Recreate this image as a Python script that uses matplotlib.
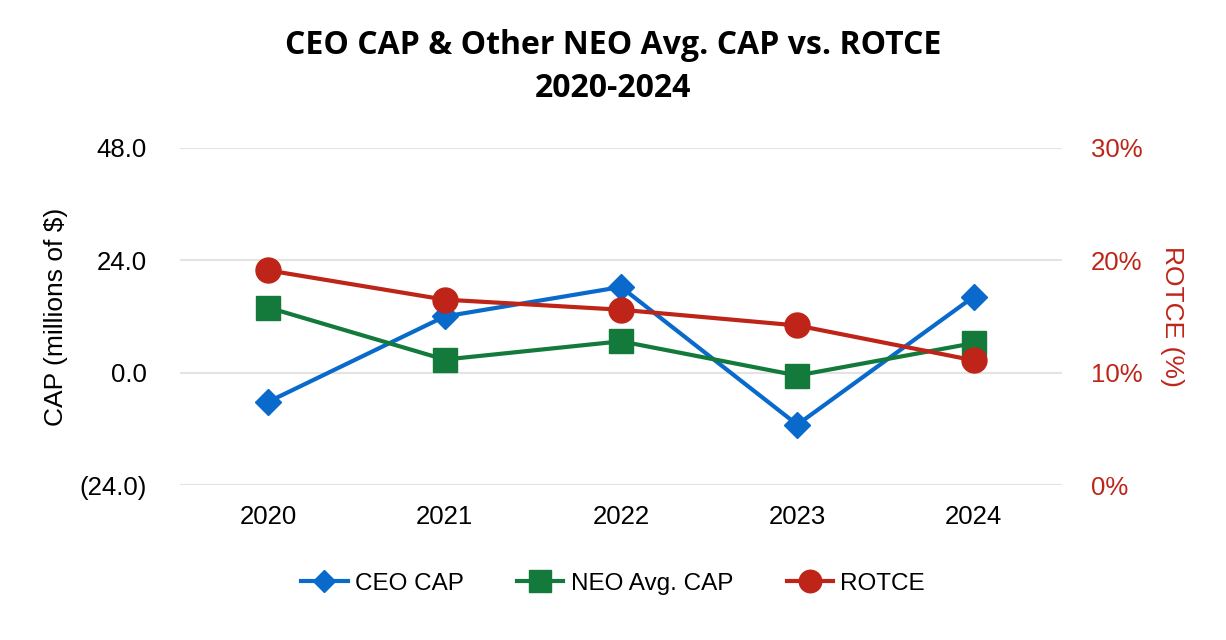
import matplotlib
matplotlib.use('Agg')
import matplotlib.pyplot as plt
from matplotlib.ticker import FuncFormatter

plt.rcParams['font.family'] = ['Liberation Sans', 'DejaVu Sans']

# 数据
years = ['2020', '2021', '2022', '2023', '2024']
ceo_cap = [-6.2, 12.0, 18.3, -11.1, 16.2]
neo_cap = [13.9, 2.8, 6.7, -0.6, 6.3]
rotce = [19.1, 16.5, 15.6, 14.2, 11.1]

blue = '#0A6ACB'
green = '#137A3C'
red = '#BF2418'

fig = plt.figure(figsize=(12.26, 6.4), dpi=100)
ax = fig.add_axes([0.147, 0.242, 0.719, 0.527])
ax2 = ax.twinx()

x = range(len(years))
l1, = ax.plot(x, ceo_cap, color=blue, lw=3, marker='D', ms=13, label='CEO CAP', zorder=3)
l2, = ax.plot(x, neo_cap, color=green, lw=3, marker='s', ms=17, label='NEO Avg. CAP', zorder=3)
l3, = ax2.plot(x, rotce, color=red, lw=3, marker='o', ms=18, label='ROTCE', zorder=3)

ax.set_xlim(-0.5, 4.5)
ax.set_ylim(-24, 48)
ax.set_yticks([-24, 0, 24, 48])
ax.yaxis.set_major_formatter(FuncFormatter(lambda v, p: '(%.1f)' % abs(v) if v < 0 else '%.1f' % v))
ax2.set_ylim(0, 30)
ax2.set_yticks([0, 10, 20, 30])
ax2.yaxis.set_major_formatter(FuncFormatter(lambda v, p: '%d%%' % v))

ax.set_xticks(list(x))
ax.set_xticklabels(years)
ax.grid(axis='y', color='#E3E3E3', lw=1.5)
ax.set_axisbelow(True)
for a in (ax, ax2):
    for s in a.spines.values():
        s.set_visible(False)
    a.tick_params(length=0, labelsize=18.5)
ax.tick_params(axis='y', pad=24)
ax.tick_params(axis='x', pad=14)
ax2.tick_params(axis='y', colors=red, pad=21)

ax.set_ylabel('CAP (millions of $)', fontsize=19, labelpad=8)
ax2.set_ylabel('ROTCE (%)', fontsize=19, color=red, rotation=270, labelpad=30)

fig.suptitle('CEO CAP & Other NEO Avg. CAP vs. ROTCE\n2020-2024', fontsize=23, fontweight='bold',
             family=['Open Sans', 'DejaVu Sans'], y=0.955, linespacing=1.4)

fig.legend(handles=[l1, l2, l3], loc='center', bbox_to_anchor=(0.5, 0.088), ncol=3, frameon=False,
           fontsize=17.5, handlelength=1.9, columnspacing=2.2, handletextpad=0.3, markerscale=0.9)

fig.savefig('out.png', dpi=100)
